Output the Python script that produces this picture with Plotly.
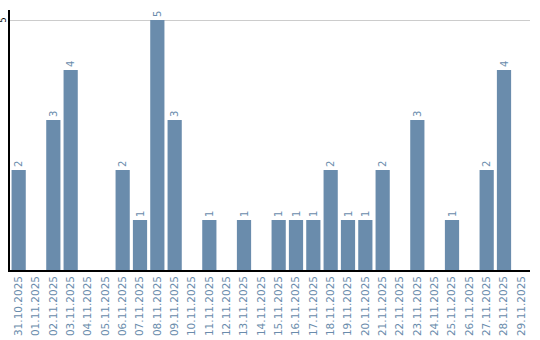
import plotly.graph_objects as go

dates = ["31.10.2025", "01.11.2025", "02.11.2025", "03.11.2025", "04.11.2025", "05.11.2025",
         "06.11.2025", "07.11.2025", "08.11.2025", "09.11.2025", "10.11.2025", "11.11.2025",
         "12.11.2025", "13.11.2025", "14.11.2025", "15.11.2025", "16.11.2025", "17.11.2025",
         "18.11.2025", "19.11.2025", "20.11.2025", "21.11.2025", "22.11.2025", "23.11.2025",
         "24.11.2025", "25.11.2025", "26.11.2025", "27.11.2025", "28.11.2025", "29.11.2025"]
counts = [2, 0, 3, 4, 0, 0, 2, 1, 5, 3, 0, 1, 0, 1, 0, 1, 1, 1, 2, 1, 1, 2, 0, 3, 0, 1, 0, 2, 4, 0]
y_tick_values = [5]
y_tick_labels = ["5"]

bar_color = "rgb(106,140,172)"
labels = [str(v) if v else "" for v in counts]

fig = go.Figure(go.Bar(
    x=dates, y=counts, marker_color=bar_color, marker_line_width=0,
    text=labels, textposition="outside", textangle=-90,
    textfont=dict(color=bar_color, size=10, family="DejaVu Sans"),
    cliponaxis=False,
))

fig.update_layout(
    width=540, height=340,
    margin=dict(l=10, r=10, t=10, b=70),
    paper_bgcolor="white", plot_bgcolor="white",
    bargap=0.18, showlegend=False,
    font=dict(family="DejaVu Sans"),
    xaxis=dict(type="category", tickangle=-90, showline=True, linecolor="black", linewidth=1.5,
               ticks="", showgrid=False, automargin=False, ticklabelstandoff=0,
               tickfont=dict(color=bar_color, size=10.5, family="DejaVu Sans")),
    yaxis=dict(range=[0, 5.2], tickvals=y_tick_values, showticklabels=False,
               showline=True, linecolor="black", linewidth=1.5, automargin=False,
               showgrid=True, gridcolor="#cccccc", gridwidth=1, zeroline=False, ticks=""),
)

for v, t in zip(y_tick_values, y_tick_labels):
    fig.add_annotation(x=0, xref="paper", y=v, yref="y", text=t, showarrow=False,
                       textangle=-90, xanchor="right", yanchor="middle", xshift=-1,
                       font=dict(color="black", size=8, family="DejaVu Sans"))

fig.write_html("out.html")
